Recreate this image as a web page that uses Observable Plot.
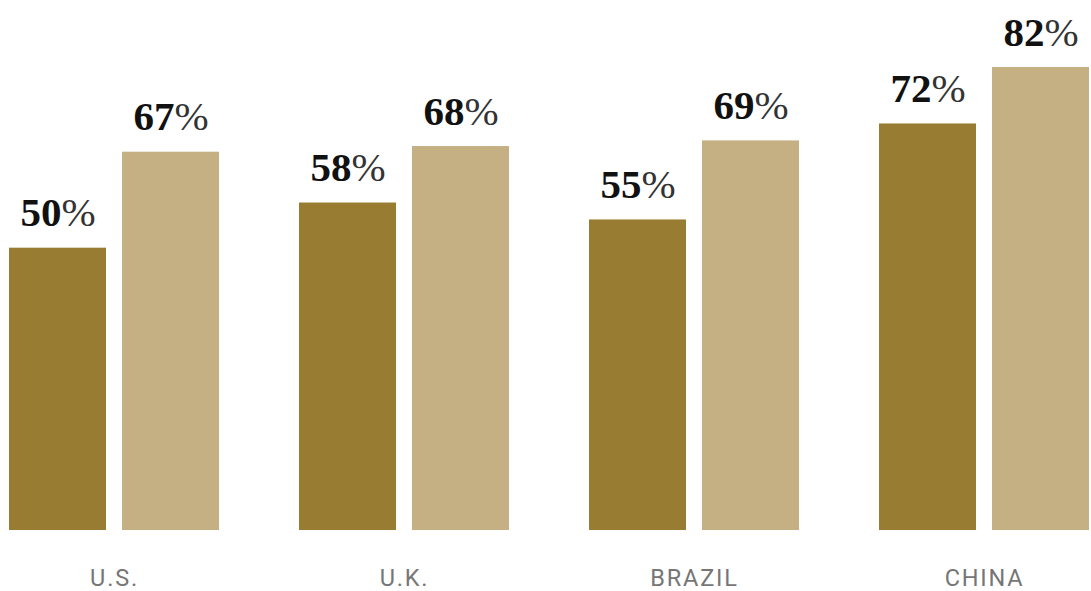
<!DOCTYPE html>
<html>
<head>
<meta charset="utf-8">
<script src="https://cdn.jsdelivr.net/npm/d3@7"></script>
<script src="https://cdn.jsdelivr.net/npm/@observablehq/plot@0.6"></script>
<style>
  html, body { margin: 0; padding: 0; background: #fff; }
  #chart svg { display: block; }
</style>
</head>
<body>
<div id="chart"></div>
<script>
const categories = ["U.S.", "U.K.", "BRAZIL", "CHINA"];
const seriesNames = ["first", "second"];
const firstValues = [50, 58, 55, 72];
const secondValues = [67, 68, 69, 82];
const seriesColors = ["#977C31", "#C5B084"];

const data = [];
categories.forEach((c, i) => {
  data.push({ category: c, series: seriesNames[0], value: firstValues[i] });
  data.push({ category: c, series: seriesNames[1], value: secondValues[i] });
});

const maxV = d3.max(data, d => d.value);

const chart = Plot.plot({
  width: 1091,
  height: 591,
  marginLeft: 9,
  marginRight: 2,
  marginTop: 67,
  marginBottom: 61,
  fx: { domain: categories, paddingInner: 80 / 290, paddingOuter: 0, axis: null },
  x: { domain: seriesNames, paddingInner: 16 / 113, paddingOuter: 0, axis: null },
  y: { domain: [0, maxV], axis: null },
  color: { domain: seriesNames, range: seriesColors },
  marks: [
    Plot.barY(data, { fx: "category", x: "series", y: "value", fill: "series" }),
    Plot.text(data, {
      fx: "category", x: "series", y: "value",
      text: d => d.value + "%",
      lineAnchor: "bottom", dy: -22,
      fontSize: 41, fill: "#111",
      fontFamily: "Liberation Serif"
    }),
    Plot.axisFx({
      anchor: "bottom", tickSize: 0, tickPadding: 39, label: null,
      fontSize: 23.5, fill: "#767676", fontFamily: "Roboto"
    })
  ]
});

// Split value labels into bold digits + light percent sign
d3.select(chart).selectAll("text").each(function () {
  const t = this.textContent;
  const m = /^(\d+)%$/.exec(t);
  if (!m) return;
  const sel = d3.select(this);
  sel.text(null);
  sel.append("tspan").attr("font-weight", "bold").text(m[1]);
  sel.append("tspan").attr("font-weight", "normal").attr("fill", "#333").text("%");
});
d3.select(chart).selectAll("g[aria-label='fx-axis tick label'] text")
  .style("letter-spacing", "1.8px");

document.getElementById("chart").appendChild(chart);
</script>
</body>
</html>
